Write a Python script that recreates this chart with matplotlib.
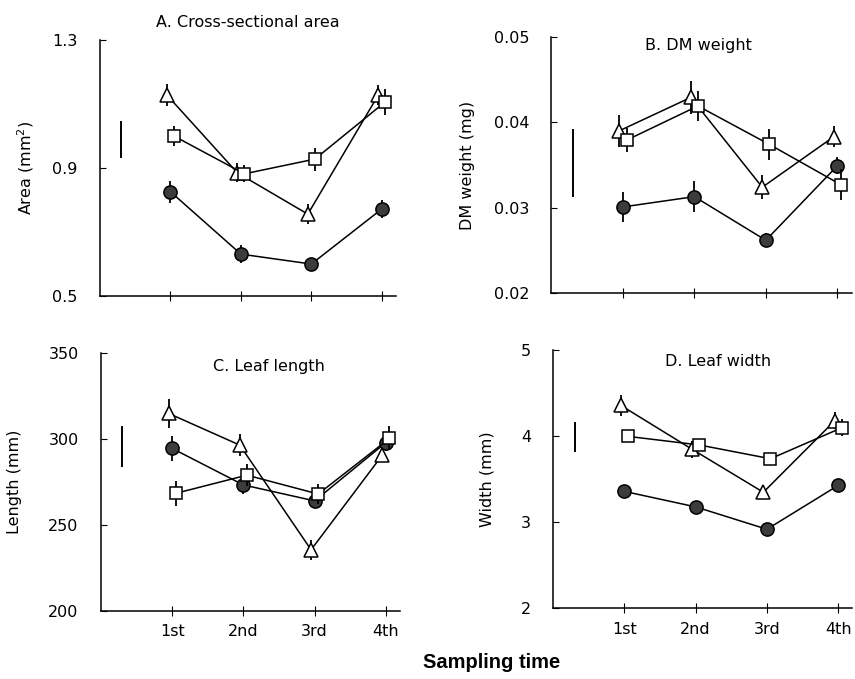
import numpy as np
import matplotlib
matplotlib.use("Agg")
import matplotlib.pyplot as plt

times = ["1st", "2nd", "3rd", "4th"]

# A. Cross-sectional area (mm2)
area_tri = [1.128, 0.885, 0.756, 1.128]
area_sq = [1.000, 0.882, 0.928, 1.107]
area_circ = [0.826, 0.631, 0.600, 0.772]
area_tri_err = [0.035, 0.030, 0.032, 0.030]
area_sq_err = [0.031, 0.026, 0.036, 0.040]
area_circ_err = [0.035, 0.028, 0.020, 0.028]
area_lsd = (0.989, 0.110)

# B. DM weight (mg)
dm_tri = [0.0390, 0.0429, 0.0324, 0.0383]
dm_sq = [0.0379, 0.0419, 0.0374, 0.0327]
dm_circ = [0.0301, 0.0313, 0.0262, 0.0349]
dm_tri_err = [0.0019, 0.0019, 0.0014, 0.0012]
dm_sq_err = [0.0014, 0.0018, 0.0018, 0.0018]
dm_circ_err = [0.0018, 0.0018, 0.0008, 0.0010]
dm_lsd = (0.0352, 0.0077)

# C. Leaf length (mm)
len_tri = [315.0, 296.5, 235.5, 290.7]
len_sq = [268.4, 279.0, 268.0, 300.4]
len_circ = [294.6, 273.3, 264.0, 298.0]
len_tri_err = [8.3, 6.3, 5.8, 4.0]
len_sq_err = [7.3, 6.6, 6.0, 7.0]
len_circ_err = [7.3, 5.3, 4.4, 5.0]
len_lsd = (295.7, 22.5)

# D. Leaf width (mm)
wid_tri = [4.36, 3.85, 3.35, 4.18]
wid_sq = [4.00, 3.90, 3.74, 4.10]
wid_circ = [3.36, 3.18, 2.92, 3.43]
wid_tri_err = [0.12, 0.10, 0.06, 0.10]
wid_sq_err = [0.05, 0.06, 0.05, 0.10]
wid_circ_err = [0.04, 0.05, 0.04, 0.04]
wid_lsd = (3.995, 0.33)

panels = [
    dict(title="A. Cross-sectional area", ylabel="Area (mm$^2$)", ylim=(0.5, 1.3),
         yticks=[0.5, 0.9, 1.3], fmt="{:.1f}", tri=area_tri, sq=area_sq, circ=area_circ,
         tri_err=area_tri_err, sq_err=area_sq_err, circ_err=area_circ_err, lsd=area_lsd,
         rect=[0.117, 0.564, 0.346, 0.377], title_y=1.07, label_x=-0.216),
    dict(title="B. DM weight", ylabel="DM weight (mg)", ylim=(0.02, 0.05),
         yticks=[0.02, 0.03, 0.04, 0.05], fmt="{:.2f}", tri=dm_tri, sq=dm_sq, circ=dm_circ,
         tri_err=dm_tri_err, sq_err=dm_sq_err, circ_err=dm_circ_err, lsd=dm_lsd,
         rect=[0.645, 0.568, 0.351, 0.378], title_y=0.965, label_x=-0.256),
    dict(title="C. Leaf length", ylabel="Length (mm)", ylim=(200, 350),
         yticks=[200, 250, 300, 350], fmt="{:.0f}", tri=len_tri, sq=len_sq, circ=len_circ,
         tri_err=len_tri_err, sq_err=len_sq_err, circ_err=len_circ_err, lsd=len_lsd,
         rect=[0.118, 0.1006, 0.350, 0.379], title_y=0.95, label_x=-0.265),
    dict(title="D. Leaf width", ylabel="Width (mm)", ylim=(2, 5),
         yticks=[2, 3, 4, 5], fmt="{:.0f}", tri=wid_tri, sq=wid_sq, circ=wid_circ,
         tri_err=wid_tri_err, sq_err=wid_sq_err, circ_err=wid_circ_err, lsd=wid_lsd,
         rect=[0.647, 0.104, 0.350, 0.380], title_y=0.955, label_x=-0.196),
]

title_x = [0.5, 0.49, 0.56, 0.55]

plt.rcParams["font.family"] = "DejaVu Sans"
fig = plt.figure(figsize=(8.55, 6.79), dpi=100)
x = np.arange(1, 5)

for i, p in enumerate(panels):
    ax = fig.add_axes(p["rect"])
    common = dict(color="black", lw=1.1, capsize=0, elinewidth=1.3, markeredgecolor="black",
                  markeredgewidth=1.1)
    # small horizontal dodge so the open symbols don't sit on top of each other
    ax.errorbar(x, p["circ"], yerr=p["circ_err"], marker="o", markersize=9.5,
                markerfacecolor="#3c3c3c", zorder=3, **common)
    ax.errorbar(x - 0.05, p["tri"], yerr=p["tri_err"], marker="^", markersize=9.5,
                markerfacecolor="white", zorder=4, **common)
    ax.errorbar(x + 0.05, p["sq"], yerr=p["sq_err"], marker="s", markersize=9,
                markerfacecolor="white", zorder=5, **common)
    c, L = p["lsd"]
    ax.plot([0.3, 0.3], [c - L / 2, c + L / 2], color="black", lw=1.4)

    ax.set_xlim(0, 4.2)
    ax.set_ylim(*p["ylim"])
    ax.set_yticks(p["yticks"])
    ax.set_yticklabels([p["fmt"].format(v) for v in p["yticks"]])
    ax.set_xticks(x)
    if i >= 2:
        ax.set_xticklabels(times)
    else:
        ax.set_xticklabels([])
    ax.spines["top"].set_visible(False)
    ax.spines["right"].set_visible(False)
    ax.spines["left"].set_linewidth(1.1)
    ax.spines["bottom"].set_linewidth(1.1)
    ax.tick_params(axis="y", direction="in", length=4, pad=16, labelsize=11.5)
    ax.tick_params(axis="x", direction="inout", length=7, pad=6, labelsize=11.5)
    ax.set_ylabel(p["ylabel"], fontsize=11.5)
    ax.yaxis.set_label_coords(p["label_x"], 0.5)
    ax.text(title_x[i], p["title_y"], p["title"], transform=ax.transAxes,
            ha="center", va="center", fontsize=11.5)

fig.text(0.575, 0.025, "Sampling time", ha="center", va="center",
         fontsize=14.5, fontweight="bold", family="Liberation Sans")

fig.savefig("out.png", dpi=100)
